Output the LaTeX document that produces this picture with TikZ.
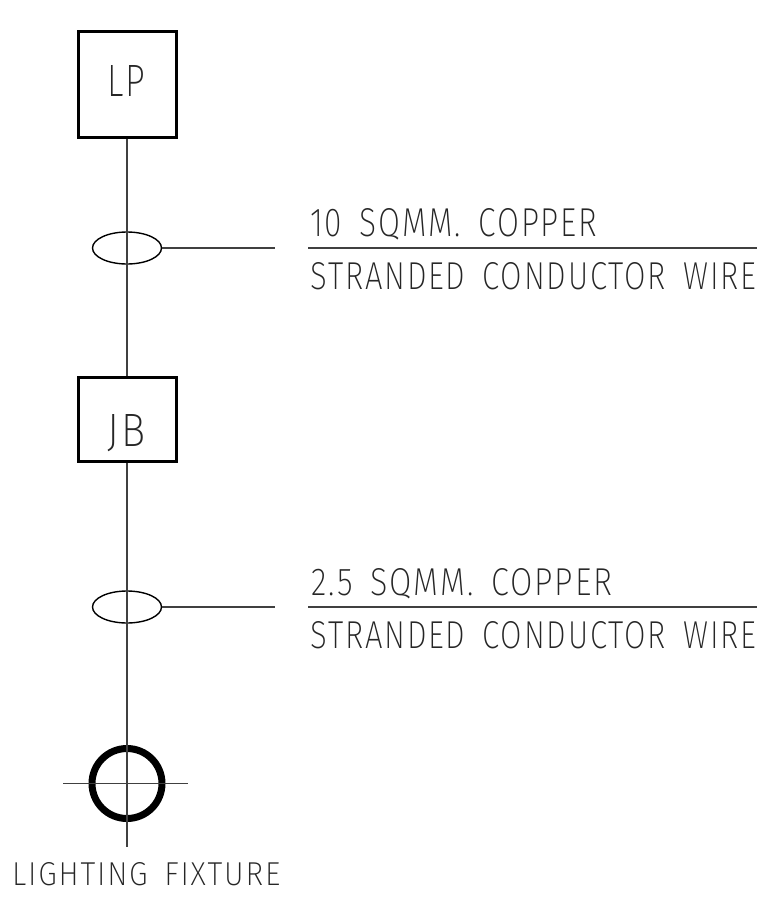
\documentclass[tikz,border=0pt]{standalone}
\usepackage{fontspec}
\newfontfamily\cadfont{Fira Sans ExtraLight}[LetterSpace=6,WordSpace=1.6]
\usetikzlibrary{shapes.geometric}
\newcommand{\fitto}[3]{\resizebox{#1}{#2}{#3}}
\tikzset{wire/.style={line width=1.5pt,black!75},
	box/.style={draw,line width=3pt,minimum width=98pt,inner sep=0pt},
	sleeve/.style={draw,ellipse,line width=1.4pt,minimum width=69pt,minimum height=32pt,inner sep=0pt},
	note/.style={anchor=base west,inner sep=0pt,font=\cadfont\fontsize{40}{40}\selectfont,text=black!85}}

\begin{document}
\begin{tikzpicture}[x=1pt,y=-1pt]
	\useasboundingbox (0,0) rectangle (764,900);
	% panel and junction box
	\node[box,minimum height=106pt] (lp) at (127,84) {};
	\node[note] (lpt) at (107,96) {\fitto{38pt}{31pt}{LP}};
	\node[box,minimum height=84pt] (jb) at (127,419) {};
	\node[note] (jbt) at (107,446) {\fitto{38pt}{32pt}{JB}};
	% fixture
	\node[draw,circle,line width=7pt,minimum size=70pt,inner sep=0pt] (fix) at (127,783.5) {};
	\coordinate (fixL) at (63,783.5);
	\coordinate (fixR) at (188,783.5);
	\coordinate (fixB) at (127,847);
	% wire sleeves
	\node[sleeve] (s1) at (127,248) {};
	\node[sleeve] (s2) at (127,607) {};
	\coordinate (l1) at (275,248);
	\coordinate (l2) at (275,607);
	\coordinate (u1a) at (308,248);
	\coordinate (u1b) at (757,248);
	\coordinate (u2a) at (308,607);
	\coordinate (u2b) at (757,607);

	\draw[wire] (lp.south) -- (jb.north);
	\draw[wire] (jb.south) -- (fixB);
	\draw[wire] (fixL) -- (fixR);
	\draw[wire] (s1.east) -- (l1);
	\draw[wire] (s2.east) -- (l2);
	\draw[wire] (u1a) -- (u1b);
	\draw[wire] (u2a) -- (u2b);

	% texts
	\node[note] (t1) at (310,236) {\fitto{287pt}{28pt}{10 SQMM. COPPER}};
	\node[note] (t2) at (310,289) {\fitto{446pt}{27pt}{STRANDED CONDUCTOR WIRE}};
	\node[note] (t3) at (311,595) {\fitto{301pt}{27pt}{2.5 SQMM. COPPER}};
	\node[note] (t4) at (310,648) {\fitto{446pt}{27pt}{STRANDED CONDUCTOR WIRE}};
	\node[note] (t5) at (12,885) {\fitto{268pt}{23pt}{LIGHTING FIXTURE}};
\end{tikzpicture}
\end{document}
